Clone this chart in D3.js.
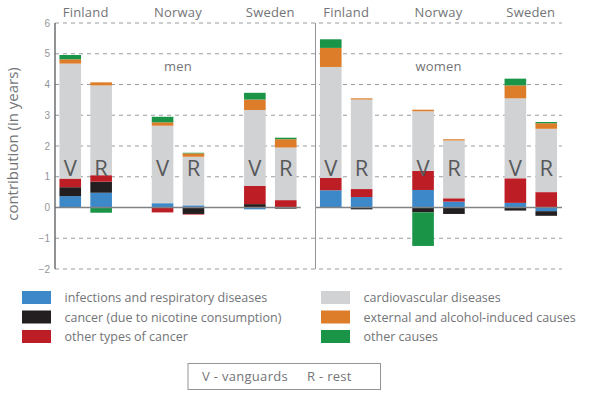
<!DOCTYPE html>
<html>
<head>
<meta charset="utf-8">
<title>Contribution by cause</title>
<script src="https://d3js.org/d3.v7.min.js"></script>
<style>
body {
	margin: 0;
	background-color: white;
	font-family: "Open Sans", sans-serif;
}
text {
	fill: #737477;
}
.grid line {
	stroke: #9a9b9d;
	stroke-width: 1;
	stroke-dasharray: 4,4;
}
.tick text {
	font-size: 10px;
	fill: #939598;
}
.vr {
	font-size: 22px;
	fill: #58595b;
}
</style>
</head>
<body>
<div id="graph"></div>
<script>
/* globals d3 */
"use strict";

const panels = ["men", "women"];
const countries = ["Finland", "Norway", "Sweden"];
const groups = ["V", "R"];
const causes = [
	"infections and respiratory diseases",
	"cancer (due to nicotine consumption)",
	"other types of cancer",
	"cardiovascular diseases",
	"external and alcohol-induced causes",
	"other causes"
];
const causeColors = ["#3c88c9", "#231f20", "#bd1e26", "#d1d2d4", "#dd7d2a", "#1a9447"];
const yTicks = [-2, -1, 0, 1, 2, 3, 4, 5, 6];
const boxLabels = ["V - vanguards", "R - rest"];

// bar order: men Fin V, Fin R, Nor V, Nor R, Swe V, Swe R, then the same for women
const infections = [0.37, 0.48, 0.14, 0.07, -0.06, -0.02, 0.56, 0.34, 0.57, 0.19, 0.15, -0.12];
const nicotine   = [0.29, 0.36, 0, -0.21, 0.11, -0.02, 0, -0.06, -0.16, -0.21, -0.10, -0.15];
const otherCancer = [0.28, 0.21, -0.16, -0.02, 0.59, 0.24, 0.40, 0.26, 0.62, 0.11, 0.80, 0.50];
const cardio     = [3.74, 2.92, 2.52, 1.58, 2.47, 1.71, 3.61, 2.91, 1.94, 1.88, 2.60, 2.06];
const external   = [0.14, 0.10, 0.11, 0.11, 0.34, 0.27, 0.62, 0.04, 0.05, 0.04, 0.42, 0.18];
const otherCauses = [0.14, -0.17, 0.18, 0.02, 0.22, 0.05, 0.28, 0, -1.09, 0, 0.22, 0.04];

const series = [infections, nicotine, otherCancer, cardio, external, otherCauses];

const rows = [];
let n = 0;
for (const p of panels)
	for (const c of countries)
		for (const g of groups) {
			const row = {panel: p, country: c, group: g};
			causes.forEach((k, j) => { row[k] = series[j][n]; });
			rows.push(row);
			n++;
		}

const width = 590, height = 397;
const svg = d3.select("#graph").append("svg")
	.attr("width", width)
	.attr("height", height);

const yScale = d3.scaleLinear([-2, 6], [269, 23]);
const panelX = d3.scaleOrdinal(panels, [55, 315.5]);
const countryX = d3.scalePoint(countries, [30.7, 215.3]);
const groupX = d3.scaleBand(groups, [-26.25, 26.25]).paddingInner(0.3);
const color = d3.scaleOrdinal(causes, causeColors);
const plotRight = 562;

// dashed grid
svg.append("g")
	.attr("class", "grid")
	.selectAll("line")
	.data(yTicks.filter(t => t !== 0))
	.join("line")
		.attr("x1", 55)
		.attr("x2", plotRight)
		.attr("y1", d => yScale(d))
		.attr("y2", d => yScale(d));

// tick labels
const yAxis = d3.axisLeft(yScale).tickValues(yTicks).tickSize(0).tickPadding(5);
svg.append("g")
	.attr("transform", "translate(55,0)")
	.call(yAxis)
	.call(g => g.select(".domain").remove());

// stacked bars
const stack = d3.stack().keys(causes).offset(d3.stackOffsetDiverging);
const stacked = stack(rows);
const barX = d => panelX(d.data.panel) + countryX(d.data.country) + groupX(d.data.group);

svg.append("g")
	.selectAll("g")
	.data(stacked)
	.join("g")
		.attr("fill", d => color(d.key))
	.selectAll("rect")
	.data(d => d)
	.join("rect")
		.attr("x", barX)
		.attr("width", groupX.bandwidth())
		.attr("y", d => yScale(Math.max(d[0], d[1])))
		.attr("height", d => Math.abs(yScale(d[0]) - yScale(d[1])));

// V / R letters
svg.append("g")
	.selectAll("text")
	.data(rows)
	.join("text")
		.attr("class", "vr")
		.attr("text-anchor", "middle")
		.attr("x", d => panelX(d.panel) + countryX(d.country) + groupX(d.group) + groupX.bandwidth() / 2)
		.attr("y", 175.5)
		.text(d => d.group);

// zero lines per panel
svg.append("g")
	.selectAll("line")
	.data([[55, 300.7], [315.5, plotRight]])
	.join("line")
		.attr("x1", d => d[0])
		.attr("x2", d => d[1])
		.attr("y1", yScale(0))
		.attr("y2", yScale(0))
		.attr("stroke", "#808285")
		.attr("stroke-width", 1.5);

// axis line and panel divider
svg.append("line")
	.attr("x1", 55).attr("x2", 55)
	.attr("y1", yScale(6)).attr("y2", yScale(-2))
	.attr("stroke", "#6d6e71")
	.attr("stroke-width", 1.5);
svg.append("line")
	.attr("x1", 315.5).attr("x2", 315.5)
	.attr("y1", yScale(6)).attr("y2", yScale(-2))
	.attr("stroke", "#939598")
	.attr("stroke-width", 1);

// country names and panel titles
for (const p of panels) {
	svg.append("g")
		.selectAll("text")
		.data(countries)
		.join("text")
			.attr("text-anchor", "middle")
			.attr("x", c => panelX(p) + countryX(c))
			.attr("y", 17)
			.attr("font-size", 13)
			.attr("letter-spacing", "0.2px")
			.text(c => c);
	svg.append("text")
		.attr("text-anchor", "middle")
		.attr("x", panelX(p) + countryX("Norway"))
		.attr("y", 71)
		.attr("font-size", 13)
		.attr("letter-spacing", "0.2px")
		.text(p);
}

// y label
svg.append("text")
	.attr("transform", "translate(18,144) rotate(-90)")
	.attr("text-anchor", "middle")
	.attr("font-size", 15)
	.text("contribution (in years)");

// legend
const legend = svg.append("g")
	.selectAll("g")
	.data(causes)
	.join("g")
		.attr("transform", (d, i) => "translate(" + (i < 3 ? 22 : 321) + "," + (291 + (i % 3) * 19.5) + ")");
legend.append("rect")
	.attr("width", 29)
	.attr("height", 13)
	.attr("fill", d => color(d));
legend.append("text")
	.attr("x", 42.5)
	.attr("y", 11)
	.attr("font-size", 12.5)
	.text(d => d);

// V / R key box
svg.append("rect")
	.attr("x", 188)
	.attr("y", 363.5)
	.attr("width", 192.5)
	.attr("height", 26)
	.attr("fill", "none")
	.attr("stroke", "#939598")
	.attr("stroke-width", 1);
svg.append("g")
	.selectAll("text")
	.data(boxLabels)
	.join("text")
		.attr("x", (d, i) => i === 0 ? 202 : 307)
		.attr("y", 381)
		.attr("font-size", 13)
		.attr("letter-spacing", "0.3px")
		.text(d => d);
</script>
</body>
</html>
